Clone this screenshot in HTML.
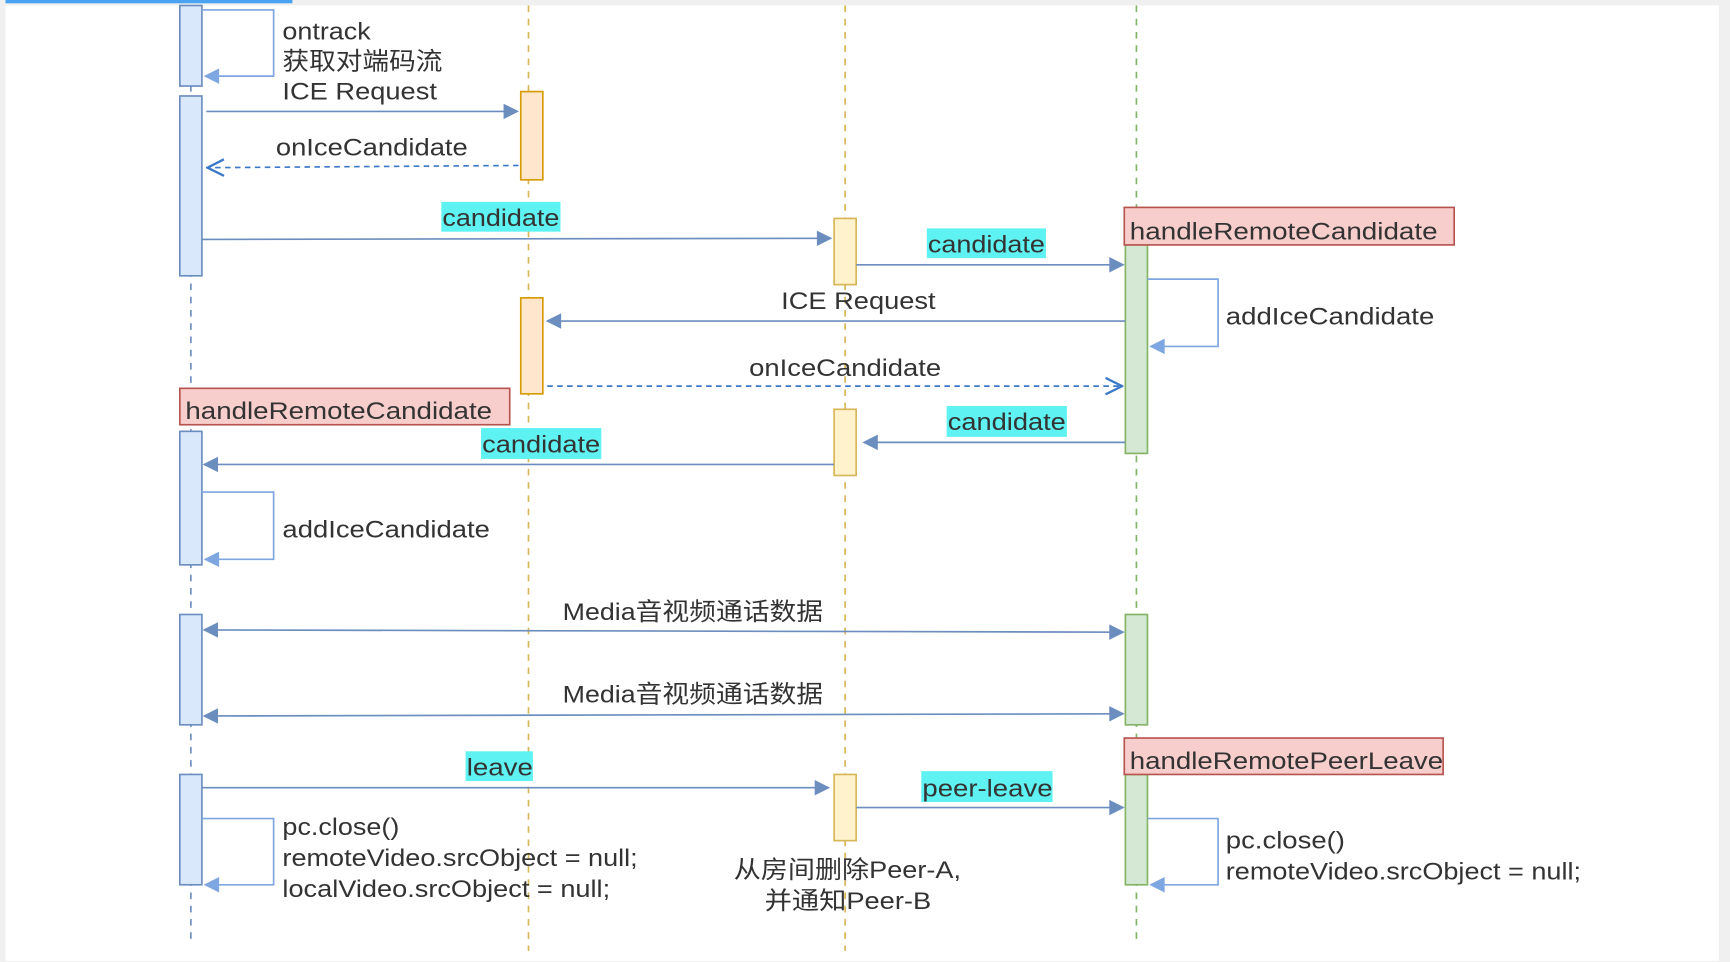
<!DOCTYPE html>
<html><head><meta charset="utf-8"><style>
html,body{margin:0;padding:0;background:#f0f0f0}
svg{display:block}
text{font-family:"Liberation Sans","Noto Sans CJK SC",sans-serif;font-size:22px;fill:#333}
</style></head><body>
<svg width="1730" height="962" viewBox="0 0 1568 872" preserveAspectRatio="none" xmlns="http://www.w3.org/2000/svg">
<defs>
<marker id="f" viewBox="0 0 10 10" refX="9" refY="5" markerWidth="15" markerHeight="14" markerUnits="userSpaceOnUse" orient="auto-start-reverse"><path d="M0,0 L10,5 L0,10 z" fill="#6c8ebf"/></marker>
<marker id="fl" viewBox="0 0 10 10" refX="9" refY="5" markerWidth="15" markerHeight="14" markerUnits="userSpaceOnUse" orient="auto"><path d="M0,0 L10,5 L0,10 z" fill="#7ea6e0"/></marker>
<marker id="o" viewBox="0 0 12 12" refX="11" refY="6" markerWidth="18" markerHeight="18" markerUnits="userSpaceOnUse" orient="auto"><path d="M1,1 L11,6 L1,11" fill="none" stroke="#3c78c8" stroke-width="1.4"/></marker>
</defs>
<rect x="0" y="0" width="1568" height="872" fill="#f0f0f0"/>
<rect x="5" y="5" width="1553" height="866" fill="#fff"/>
<rect x="5" y="0" width="260" height="3" fill="#4aa3f0"/>
<g stroke-width="1.5" stroke-dasharray="6,6" fill="none">
<line x1="173" y1="5" x2="173" y2="855" stroke="#6c8ebf"/>
<line x1="479" y1="5" x2="479" y2="862" stroke="#d6b656"/>
<line x1="766" y1="5" x2="766" y2="862" stroke="#d6b656"/>
<line x1="1030" y1="5" x2="1030" y2="855" stroke="#82b366"/>
</g>
<g fill="#dae8fc" stroke="#6c8ebf" stroke-width="1.5">
<rect x="163" y="5" width="20" height="73"/><rect x="163" y="87" width="20" height="163"/>
<rect x="163" y="391" width="20" height="121"/><rect x="163" y="557" width="20" height="100"/>
<rect x="163" y="702" width="20" height="100"/>
</g>
<g fill="#ffe6cc" stroke="#d79b00" stroke-width="1.5">
<rect x="472" y="83" width="20" height="80"/><rect x="472" y="270" width="20" height="87"/>
</g>
<g fill="#fff2cc" stroke="#d6b656" stroke-width="1.5">
<rect x="756" y="198" width="20" height="60"/><rect x="756" y="371" width="20" height="60"/>
<rect x="756" y="702" width="20" height="60"/>
</g>
<g fill="#d5e8d4" stroke="#82b366" stroke-width="1.5">
<rect x="1020" y="222" width="20" height="189"/><rect x="1020" y="557" width="20" height="100"/>
<rect x="1020" y="702" width="20" height="100"/>
</g>
<g fill="#f8cecc" stroke="#b85450" stroke-width="1.5">
<rect x="1019" y="188" width="299" height="34"/><rect x="163" y="352" width="299" height="33"/>
<rect x="1019" y="669" width="289" height="33"/>
</g>
<text x="1024" y="217" textLength="279" lengthAdjust="spacingAndGlyphs">handleRemoteCandidate</text>
<text x="168" y="380" textLength="278" lengthAdjust="spacingAndGlyphs">handleRemoteCandidate</text>
<text x="1024" y="697" textLength="284" lengthAdjust="spacingAndGlyphs">handleRemotePeerLeave</text>
<g fill="none" stroke="#7ea6e0" stroke-width="1.5" marker-end="url(#fl)">
<path d="M183,9 H248 V69 H186"/>
<path d="M183,446 H248 V507 H186"/>
<path d="M1040,253 H1104 V314 H1043"/>
<path d="M183,742 H248 V802 H186"/>
<path d="M1040,742 H1104 V802 H1043"/>
</g>
<g fill="none" stroke="#6c8ebf" stroke-width="1.5">
<line x1="187" y1="101" x2="469" y2="101" marker-end="url(#f)"/>
<line x1="183" y1="217" x2="753" y2="216" marker-end="url(#f)"/>
<line x1="776" y1="240" x2="1018" y2="240" marker-end="url(#f)"/>
<line x1="1020" y1="291" x2="496" y2="291" marker-end="url(#f)"/>
<line x1="1020" y1="401" x2="783" y2="401" marker-end="url(#f)"/>
<line x1="756" y1="421" x2="185" y2="421" marker-end="url(#f)"/>
<line x1="185" y1="571" x2="1018" y2="573" marker-start="url(#f)" marker-end="url(#f)"/>
<line x1="185" y1="649" x2="1018" y2="647" marker-start="url(#f)" marker-end="url(#f)"/>
<line x1="183" y1="714" x2="751" y2="714" marker-end="url(#f)"/>
<line x1="776" y1="732" x2="1018" y2="732" marker-end="url(#f)"/>
</g>
<g fill="none" stroke="#3c78c8" stroke-width="1.5" stroke-dasharray="5,4">
<line x1="470" y1="150" x2="188" y2="152" marker-end="url(#o)"/>
<line x1="496" y1="350" x2="1017" y2="350" marker-end="url(#o)"/>
</g>
<g fill="#5ff2f2">
<rect x="400" y="183" width="108" height="27"/><rect x="840" y="207" width="108" height="27"/>
<rect x="858" y="368" width="109" height="28"/><rect x="436" y="388" width="109" height="28"/>
<rect x="422" y="681" width="61" height="27"/><rect x="835" y="699" width="119" height="28"/>
</g>
<text x="401" y="205" textLength="106" lengthAdjust="spacingAndGlyphs">candidate</text>
<text x="841" y="229" textLength="106" lengthAdjust="spacingAndGlyphs">candidate</text>
<text x="859" y="390" textLength="107" lengthAdjust="spacingAndGlyphs">candidate</text>
<text x="437" y="410" textLength="107" lengthAdjust="spacingAndGlyphs">candidate</text>
<text x="423" y="703" textLength="60" lengthAdjust="spacingAndGlyphs">leave</text>
<text x="836" y="722" textLength="118" lengthAdjust="spacingAndGlyphs">peer-leave</text>
<text x="256" y="36" textLength="80" lengthAdjust="spacingAndGlyphs">ontrack</text>
<text x="256" y="63" textLength="145" lengthAdjust="spacingAndGlyphs">获取对端码流</text>
<text x="256" y="90" textLength="140" lengthAdjust="spacingAndGlyphs">ICE Request</text>
<text x="250" y="141" textLength="174" lengthAdjust="spacingAndGlyphs">onIceCandidate</text>
<text x="708" y="280" textLength="140" lengthAdjust="spacingAndGlyphs">ICE Request</text>
<text x="679" y="341" textLength="174" lengthAdjust="spacingAndGlyphs">onIceCandidate</text>
<text x="1111" y="294" textLength="189" lengthAdjust="spacingAndGlyphs">addIceCandidate</text>
<text x="256" y="487" textLength="188" lengthAdjust="spacingAndGlyphs">addIceCandidate</text>
<text x="510" y="562" textLength="236" lengthAdjust="spacingAndGlyphs">Media音视频通话数据</text>
<text x="510" y="637" textLength="236" lengthAdjust="spacingAndGlyphs">Media音视频通话数据</text>
<text x="256" y="757" textLength="106" lengthAdjust="spacingAndGlyphs">pc.close()</text>
<text x="256" y="785" textLength="322" lengthAdjust="spacingAndGlyphs">remoteVideo.srcObject = null;</text>
<text x="256" y="813" textLength="297" lengthAdjust="spacingAndGlyphs">localVideo.srcObject = null;</text>
<text x="1111" y="769" textLength="108" lengthAdjust="spacingAndGlyphs">pc.close()</text>
<text x="1111" y="797" textLength="322" lengthAdjust="spacingAndGlyphs">remoteVideo.srcObject = null;</text>
<text x="665" y="796" textLength="206" lengthAdjust="spacingAndGlyphs">从房间删除Peer-A,</text>
<text x="693" y="824" textLength="151" lengthAdjust="spacingAndGlyphs">并通知Peer-B</text>
</svg>
</body></html>
